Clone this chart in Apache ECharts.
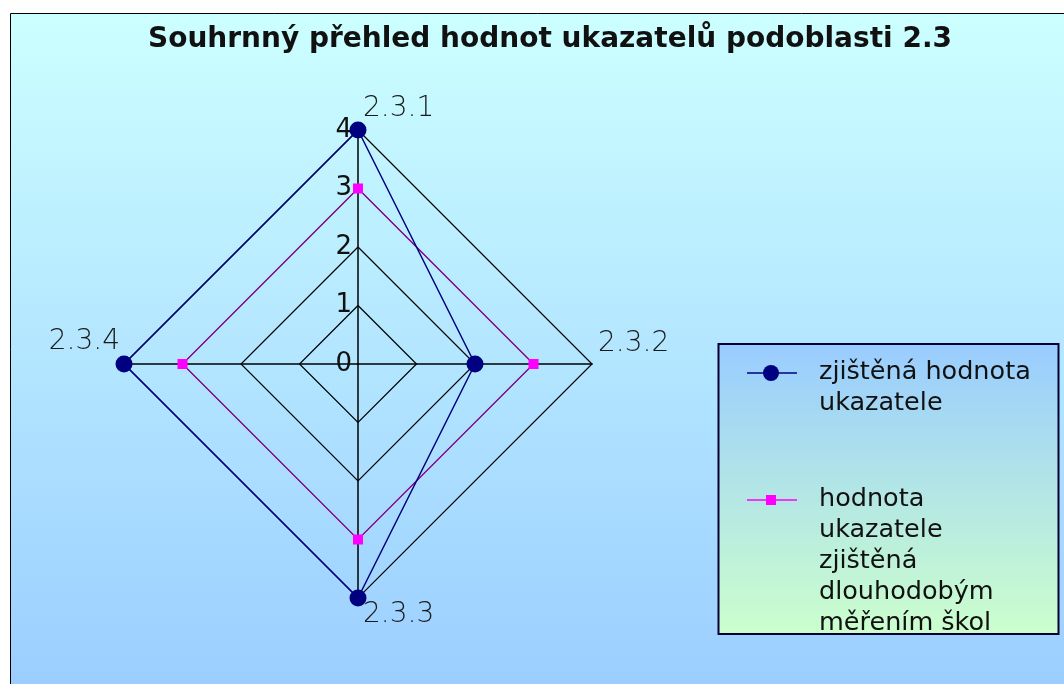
<!DOCTYPE html>
<html>
<head>
<meta charset="utf-8">
<title>Souhrnný přehled hodnot ukazatelů podoblasti 2.3</title>
<script src="https://cdn.jsdelivr.net/npm/echarts@6/dist/echarts.min.js"></script>
<style>
	html, body { margin: 0; padding: 0; background: #fff; }
	#main { width: 1064px; height: 684px; }
</style>
</head>
<body>
<div id="main"></div>
<script>
	// data
	var chartTitle = 'Souhrnný přehled hodnot ukazatelů podoblasti 2.3';
	var indicatorNames = ['2.3.1', '2.3.2', '2.3.3', '2.3.4'];
	var seriesNames = ['zjištěná hodnota\nukazatele', 'hodnota\nukazatele\nzjištěná\ndlouhodobým\nměřením škol'];
	var measuredValues = [4, 2, 4, 4];
	var longTermValues = [3, 3, 3, 3];
	var axisMax = 4;

	var cx = 358, cy = 364, radius = 234;
	var navy = '#000080', magenta = '#ff00ff';
	var n = indicatorNames.length;

	// echarts lays radar indicators out counter-clockwise, the chart goes clockwise
	var order = indicatorNames.map(function (d, k) { return (n - k) % n; });
	function reorder(arr) {
		return order.map(function (i) { return arr[i]; });
	}

	var myChart = echarts.init(document.getElementById('main'));

	// indicator names placed like the old excel chart (beside the tips)
	var nameOffsets = [[5, -21, 'left'], [6, -20, 'left'], [5, 17, 'left'], [-4, -22, 'right']];
	var graphics = [];
	// background box
	graphics.push({
		type: 'rect', z: -10, silent: true,
		shape: { x: 10.5, y: 13.5, width: 1100, height: 700 },
		style: {
			fill: new echarts.graphic.LinearGradient(0, 0, 0, 1, [
				{ offset: 0, color: '#ccffff' },
				{ offset: 1, color: '#99ccff' }
			]),
			stroke: '#000', lineWidth: 1
		}
	});
	indicatorNames.forEach(function (name, i) {
		var ang = Math.PI / 2 - i * Math.PI * 2 / n;
		var px = cx + Math.cos(ang) * radius, py = cy - Math.sin(ang) * radius;
		graphics.push({
			type: 'text', z: 10, silent: true,
			x: px + nameOffsets[i][0], y: py + nameOffsets[i][1],
			style: {
				text: name, fill: '#1a1a1a', font: '200 28px "DejaVu Sans"',
				align: nameOffsets[i][2], verticalAlign: 'middle'
			}
		});
	});

	// legend box
	graphics.push({
		type: 'rect', z: 5, silent: true,
		shape: { x: 718.5, y: 344, width: 340, height: 290 },
		style: {
			fill: new echarts.graphic.LinearGradient(0, 0, 0, 1, [
				{ offset: 0, color: '#99ccff' },
				{ offset: 1, color: '#ccffcc' }
			]),
			stroke: '#000033', lineWidth: 2
		}
	});
	var legendRows = [373, 500];
	var legendColors = [navy, magenta];
	seriesNames.forEach(function (name, i) {
		var y = legendRows[i];
		graphics.push({
			type: 'line', z: 6, silent: true,
			shape: { x1: 747, y1: y, x2: 797, y2: y },
			style: { stroke: legendColors[i], lineWidth: 1.5 }
		});
		if (i === 0) {
			graphics.push({ type: 'circle', z: 7, silent: true, shape: { cx: 771, cy: y, r: 8 }, style: { fill: navy } });
		} else {
			graphics.push({ type: 'rect', z: 7, silent: true, shape: { x: 766, y: y - 5, width: 10, height: 10 }, style: { fill: magenta } });
		}
		graphics.push({
			type: 'text', z: 7, silent: true,
			x: 819, y: y - 16,
			style: {
				text: name, fill: '#111', font: '25.5px "DejaVu Sans"',
				lineHeight: 31, align: 'left', verticalAlign: 'top'
			}
		});
	});

	var indicators = reorder(indicatorNames).map(function (name, k) {
		var ind = { name: name, min: 0, max: axisMax };
		if (k > 0) ind.axisLabel = { show: false };
		return ind;
	});

	var option = {
		animation: false,
		title: {
			text: chartTitle,
			left: 545, top: 21, textAlign: 'center',
			textStyle: { fontFamily: 'DejaVu Sans', fontSize: 28, fontWeight: 'bold', color: '#111' }
		},
		graphic: graphics,
		radar: {
			center: [cx, cy],
			radius: radius,
			shape: 'polygon',
			startAngle: 90,
			splitNumber: 4,
			indicator: indicators,
			axisName: { show: false },
			axisLine: { lineStyle: { color: '#000', width: 1.5 } },
			splitLine: { lineStyle: { color: '#000', width: 1.2 } },
			splitArea: { show: false },
			axisTick: { show: false },
			axisLabel: {
				show: true, color: '#111', fontFamily: 'DejaVu Sans', fontSize: 26, margin: 6,
				showMinLabel: true
			}
		},
		series: [{
			name: seriesNames[0],
			type: 'radar',
			z: 3,
			symbol: 'circle',
			symbolSize: 17,
			lineStyle: { color: navy, width: 1.5 },
			itemStyle: { color: navy },
			data: [{ value: reorder(measuredValues), name: seriesNames[0] }]
		}, {
			name: seriesNames[1],
			type: 'radar',
			z: 2,
			symbol: 'rect',
			symbolSize: 10,
			lineStyle: { color: magenta, width: 1 },
			itemStyle: { color: magenta },
			data: [{ value: reorder(longTermValues), name: seriesNames[1] }]
		}]
	};
	myChart.setOption(option);
</script>
</body>
</html>
